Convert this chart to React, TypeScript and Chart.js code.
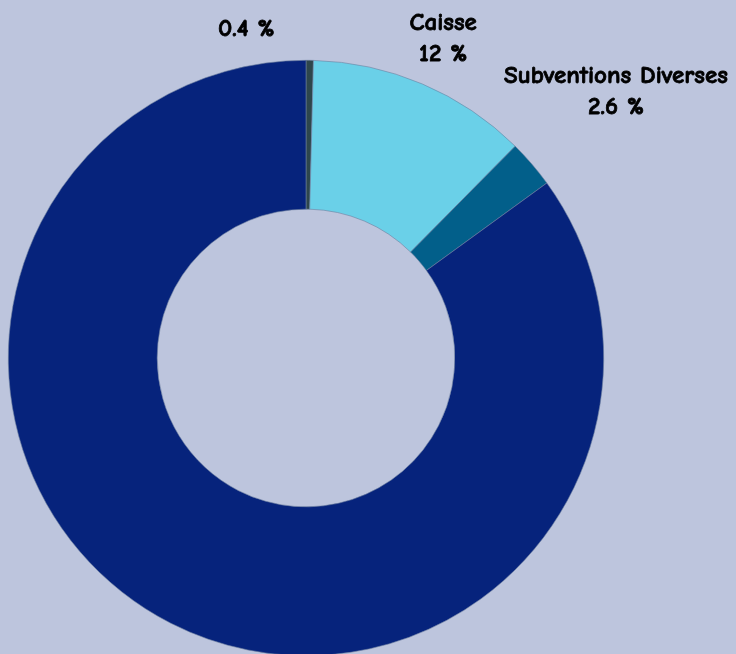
import React, { useEffect, useRef } from "react";
import { Chart, registerables } from "chart.js";

Chart.register(...registerables);

const categories = ["Dons", "Caisse", "Subventions Diverses", "Cotisations"];
const shares = [0.4, 12, 2.6, 85];
const sliceColors = ["#2e464c", "#6ad0e8", "#025f8a", "#06237c"];
const labelNudges = [
  { dx: -64, dy: -10 },
  { dx: 2, dy: -2 },
  { dx: 0, dy: 0 },
  { dx: 0, dy: 0 },
];

const BG = "#bdc5dd";
const FONT = "'Comic Sans MS', 'Comic Neue', 'Open Sans', sans-serif";

const outsideLabels = {
  id: "outsideLabels",
  afterDatasetsDraw(chart: any) {
    const ctx = chart.ctx;
    const meta = chart.getDatasetMeta(0);
    const fontSize = 25;
    const lineH = 31;
    const offset = 6;
    ctx.save();
    ctx.font = `900 ${fontSize}px ${FONT}`;
    ctx.fillStyle = "#000";
    ctx.textAlign = "center";
    ctx.textBaseline = "middle";
    meta.data.forEach((arc: any, i: number) => {
      if (shares[i] > 50) return;
      const { x, y, startAngle, endAngle, outerRadius } = arc.getProps(
        ["x", "y", "startAngle", "endAngle", "outerRadius"],
        true
      );
      const mid = (startAngle + endAngle) / 2;
      const vx = Math.cos(mid);
      const vy = Math.sin(mid);
      const lines = [categories[i], `${shares[i]} %`];
      const w = Math.max(...lines.map((l) => ctx.measureText(l).width));
      const h = lines.length * lineH;
      const d = offset + Math.abs(vx) * (w / 2) + Math.abs(vy) * (h / 2);
      const cx = x + vx * (outerRadius + d) + labelNudges[i].dx;
      const cy = y + vy * (outerRadius + d) + labelNudges[i].dy;
      lines.forEach((l, k) => {
        const ty = cy - h / 2 + lineH * (k + 0.5);
        if (ty < 8) return;
        ctx.fillText(l, cx, ty);
        ctx.lineWidth = 0.8;
        ctx.strokeStyle = "#000";
        ctx.strokeText(l, cx, ty);
      });
    });
    ctx.restore();
  },
};

export default function App() {
  const ref = useRef<HTMLCanvasElement | null>(null);

  useEffect(() => {
    document.body.style.background = BG;
    document.body.style.margin = "0";
    const chart = new Chart(ref.current as HTMLCanvasElement, {
      type: "doughnut",
      data: {
        labels: categories,
        datasets: [
          {
            data: shares,
            backgroundColor: sliceColors,
            borderWidth: 0.6,
            borderColor: "#6d7fa0",
          },
        ],
      },
      options: {
        animation: false,
        responsive: false,
        cutout: "50%",
        layout: { padding: { left: 8, right: 132, top: 60, bottom: 14 } },
        plugins: {
          legend: { display: false },
          tooltip: { enabled: false },
        },
      },
      plugins: [outsideLabels],
    });
    return () => chart.destroy();
  }, []);

  return (
    <div
      style={{
        position: "fixed",
        left: 0,
        top: 0,
        width: 736,
        height: 670,
        background: BG,
      }}
    >
      <canvas ref={ref} width={736} height={670} style={{ width: 736, height: 670 }} />
    </div>
  );
}
